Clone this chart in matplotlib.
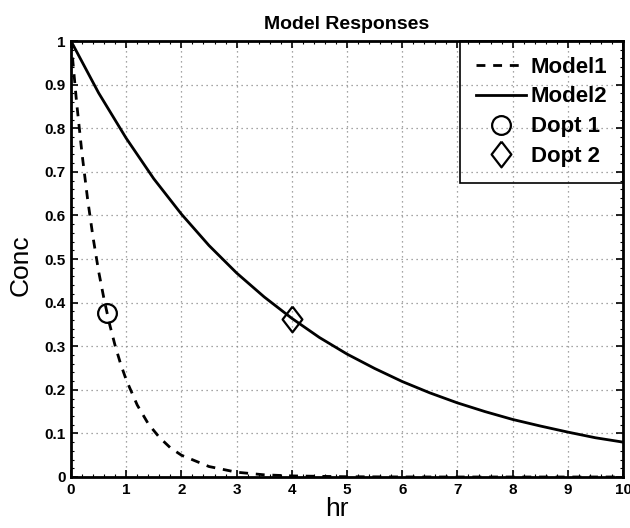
"""Model Responses: two exponential-looking concentration curves with their design points."""
import matplotlib
matplotlib.use("Agg")
import matplotlib.pyplot as plt
from matplotlib.ticker import AutoMinorLocator

plt.rcParams["font.family"] = ["Liberation Sans", "DejaVu Sans"]

# values
t1 = [0, 0.1, 0.2, 0.3, 0.4, 0.5, 0.6, 0.7, 0.8, 0.9, 1.0, 1.2, 1.4, 1.6, 1.8, 2.0,
      2.5, 3.0, 3.5, 4.0, 5.0, 6.0, 7.0, 8.0, 9.0, 10.0]
model1 = [1.0, 0.861, 0.741, 0.638, 0.549, 0.472, 0.407, 0.350, 0.301, 0.259, 0.223,
          0.165, 0.122, 0.091, 0.067, 0.050, 0.024, 0.011, 0.005, 0.0025, 0.0006,
          0.0001, 0.0, 0.0, 0.0, 0.0]
t2 = [0, 0.5, 1.0, 1.5, 2.0, 2.5, 3.0, 3.5, 4.0, 4.5, 5.0, 5.5, 6.0, 6.5, 7.0, 7.5,
      8.0, 8.5, 9.0, 9.5, 10.0]
model2 = [1.0, 0.881, 0.777, 0.684, 0.603, 0.531, 0.468, 0.413, 0.364, 0.320, 0.282,
          0.249, 0.219, 0.193, 0.170, 0.150, 0.132, 0.117, 0.103, 0.090, 0.080]
dopt1 = (0.65, 0.376)
dopt2 = (4.0, 0.363)
xticks = list(range(11))
yticks = [i / 10 for i in range(11)]
xticklabels = [str(v) for v in xticks]
yticklabels = ["0", "0.1", "0.2", "0.3", "0.4", "0.5", "0.6", "0.7", "0.8", "0.9", "1"]

diamond = [(0, 1), (0.77, 0), (0, -1), (-0.77, 0), (0, 1)]

fig = plt.figure(figsize=(6.3, 5.28), dpi=100)
ax = fig.add_axes([0.1127, 0.0966, 0.8762, 0.8257])

ax.plot(t1, model1, color="black", lw=2, ls=(0, (3.2, 2.8)), label="Model1")
ax.plot(t2, model2, color="black", lw=2, label="Model2")
ax.plot(*dopt1, ls="none", marker="o", ms=13.5, mfc="none", mec="black", mew=1.6,
        label="Dopt 1")
ax.plot(*dopt2, ls="none", marker=diamond, ms=18.5, mfc="none", mec="black", mew=1.6,
        label="Dopt 2")

ax.set_xlim(0, 10); ax.set_ylim(0, 1)
ax.set_xticks(xticks)
ax.set_xticklabels(xticklabels, fontweight="bold")
ax.set_yticks(yticks)
ax.set_yticklabels(yticklabels, fontweight="bold")
ax.xaxis.set_minor_locator(AutoMinorLocator(5))
ax.yaxis.set_minor_locator(AutoMinorLocator(5))
ax.tick_params(which="both", direction="in", top=True, right=True, labelsize=11, pad=4)
ax.tick_params(which="major", length=5, width=1.2)
ax.tick_params(which="minor", length=2.5, width=0.8)
for s in ax.spines.values():
    s.set_linewidth(2)
ax.grid(True, which="major", ls=(0, (1, 3)), color="#888888", lw=0.9)

ax.set_title("Model Responses", fontsize=14, fontweight="bold", pad=9)
ax.set_xlabel("hr", fontsize=19)
ax.xaxis.set_label_coords(0.482, -0.046, transform=ax.transAxes)
ax.xaxis.label.set_va("top")
ax.set_ylabel("Conc", fontsize=19)
ax.yaxis.set_label_coords(-0.069, 0.486, transform=ax.transAxes)

leg = ax.legend(loc="upper right", borderaxespad=0, fancybox=False, framealpha=1,
                edgecolor="black", handlelength=2.25, handletextpad=0.22,
                labelspacing=0.4, borderpad=0.7, prop={"weight": "bold", "size": 16})
leg.get_frame().set_facecolor("none")
leg.get_frame().set_linewidth(1.2)

fig.savefig("out.png", dpi=100)
